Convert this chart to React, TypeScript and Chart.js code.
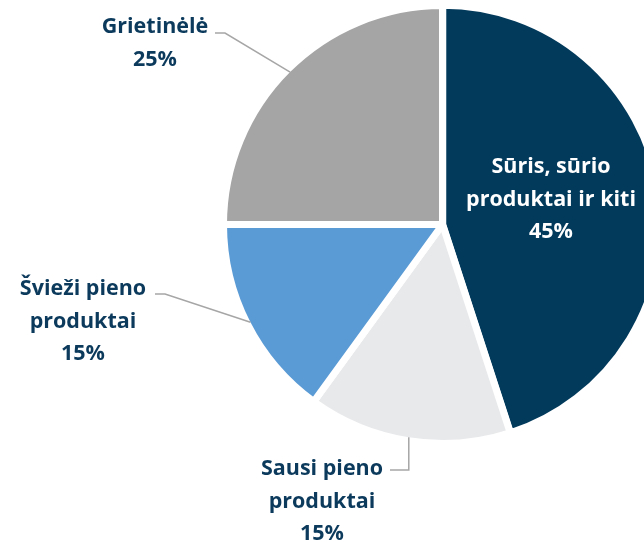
import React, { useEffect, useRef } from 'react';
import { Chart, registerables } from 'chart.js';

Chart.register(...registerables);

const categories = ['Sūris, sūrio produktai ir kiti', 'Sausi pieno produktai', 'Švieži pieno produktai', 'Grietinėlė'];
const labelLines = [['Sūris, sūrio', 'produktai ir kiti'], ['Sausi pieno', 'produktai'], ['Švieži pieno', 'produktai'], ['Grietinėlė']];
const shares = [45, 15, 15, 25];
const colors = ['#023A5C', '#E8E9EB', '#5B9BD5', '#A5A5A5'];

const TEXT_COLOR = '#0B3A5C';
const FONT = 'bold 21.5px "Open Sans", sans-serif';
const LINE_H = 32.5;

// label placement: centre x, first baseline y, leader start/elbow
const placements = [
  { cx: 551, y0: 173, inside: true },
  { cx: 322, y0: 475, sx: 390, sy: 470, vertical: true },
  { cx: 83, y0: 295, sx: 155, sy: 294, vertical: false },
  { cx: 155, y0: 33, sx: 215, sy: 33, vertical: false },
];

const labelPlugin = {
  id: 'pieLabels',
  afterDatasetsDraw(chart: any) {
    const ctx = chart.ctx as CanvasRenderingContext2D;
    const meta = chart.getDatasetMeta(0);
    ctx.save();
    ctx.font = FONT;
    ctx.textAlign = 'center';
    ctx.textBaseline = 'alphabetic';
    meta.data.forEach((arc: any, i: number) => {
      const p = placements[i];
      const { x, y, startAngle, endAngle, outerRadius } = arc.getProps(['x', 'y', 'startAngle', 'endAngle', 'outerRadius'], true);
      const mid = (startAngle + endAngle) / 2;
      const r = outerRadius - 3.5;
      const ax = x + Math.cos(mid) * r;
      const ay = y + Math.sin(mid) * r;
      const lines = [...labelLines[i], shares[i] + '%'];
      if (!p.inside) {
        ctx.strokeStyle = '#A6A6A6';
        ctx.lineWidth = 1.5;
        ctx.beginPath();
        ctx.moveTo(p.sx!, p.sy!);
        if (p.vertical) {
          ctx.lineTo(ax, p.sy!);
        } else {
          ctx.lineTo(p.sx! + 10, p.sy!);
        }
        ctx.lineTo(ax, ay);
        ctx.stroke();
      }
      ctx.fillStyle = p.inside ? '#FFFFFF' : TEXT_COLOR;
      lines.forEach((t, k) => {
        ctx.fillText(t, p.cx, p.y0 + k * LINE_H);
      });
    });
    ctx.restore();
  },
};

export default function App() {
  const ref = useRef<HTMLCanvasElement>(null);
  useEffect(() => {
    if (!ref.current) return;
    const chart = new Chart(ref.current, {
      type: 'pie',
      data: {
        labels: categories,
        datasets: [
          {
            data: shares,
            backgroundColor: colors,
            borderColor: '#FFFFFF',
            borderWidth: 7,
            offset: [1, 0, 0, 0],
          },
        ],
      },
      options: {
        responsive: false,
        animation: false,
        radius: 219,
        layout: { padding: { top: 0, left: 0, right: 0, bottom: 111 } },
        plugins: {
          legend: { display: false },
          tooltip: { enabled: false },
        },
      } as any,
      plugins: [labelPlugin],
    });
    return () => chart.destroy();
  }, []);
  return (
    <div style={{ position: 'fixed', left: 0, top: 0, width: 644, height: 542, overflow: 'hidden', background: '#fff' }}>
      <canvas ref={ref} width={885} height={560} style={{ display: 'block', width: 885, height: 560 }} />
    </div>
  );
}
